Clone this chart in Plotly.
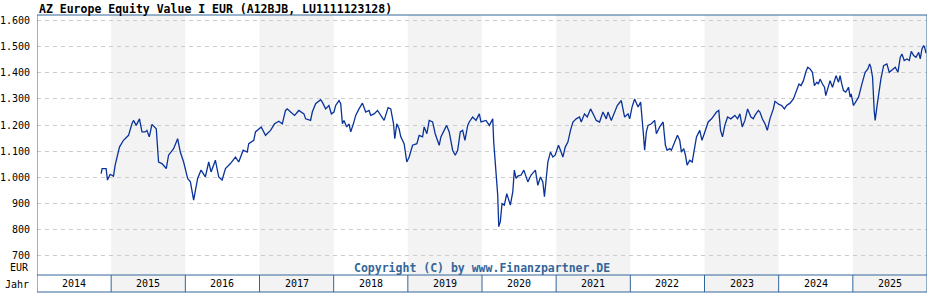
import plotly.graph_objects as go

# Fund price history (EUR), x as decimal year
dates = [
    2014.865, 2014.878, 2014.932, 2014.950, 2014.986, 2015.031, 2015.054, 2015.077, 2015.112, 2015.166,
    2015.234, 2015.280, 2015.301, 2015.338, 2015.382, 2015.415, 2015.459, 2015.482, 2015.514, 2015.550,
    2015.608, 2015.639, 2015.685, 2015.743, 2015.774, 2015.842, 2015.896, 2015.932, 2015.977, 2016.031,
    2016.068, 2016.112, 2016.135, 2016.166, 2016.212, 2016.270, 2016.315, 2016.347, 2016.405, 2016.450,
    2016.496, 2016.541, 2016.608, 2016.676, 2016.720, 2016.780, 2016.834, 2016.855, 2016.923, 2016.946,
    2017.023, 2017.081, 2017.149, 2017.203, 2017.261, 2017.307, 2017.351, 2017.374, 2017.419, 2017.473,
    2017.531, 2017.599, 2017.622, 2017.689, 2017.712, 2017.757, 2017.824, 2017.847, 2017.892, 2017.936,
    2017.969, 2018.004, 2018.027, 2018.072, 2018.095, 2018.118, 2018.139, 2018.176, 2018.207, 2018.230,
    2018.266, 2018.297, 2018.342, 2018.388, 2018.432, 2018.477, 2018.500, 2018.545, 2018.591, 2018.635,
    2018.680, 2018.734, 2018.770, 2018.807, 2018.824, 2018.851, 2018.882, 2018.905, 2018.950, 2018.986,
    2019.018, 2019.064, 2019.122, 2019.153, 2019.199, 2019.220, 2019.257, 2019.288, 2019.334, 2019.369,
    2019.423, 2019.446, 2019.491, 2019.523, 2019.558, 2019.604, 2019.639, 2019.672, 2019.707, 2019.739,
    2019.770, 2019.807, 2019.828, 2019.874, 2019.919, 2019.964, 2019.986, 2020.054, 2020.099, 2020.145,
    2020.158, 2020.176, 2020.189, 2020.212, 2020.226, 2020.247, 2020.270, 2020.301, 2020.334, 2020.355,
    2020.382, 2020.415, 2020.436, 2020.459, 2020.482, 2020.527, 2020.564, 2020.618, 2020.662, 2020.720,
    2020.753, 2020.788, 2020.820, 2020.842, 2020.865, 2020.888, 2020.923, 2020.955, 2020.986, 2021.031,
    2021.058, 2021.091, 2021.122, 2021.158, 2021.193, 2021.226, 2021.270, 2021.315, 2021.338, 2021.382,
    2021.419, 2021.464, 2021.509, 2021.541, 2021.585, 2021.631, 2021.676, 2021.699, 2021.743, 2021.788,
    2021.824, 2021.878, 2021.923, 2021.969, 2021.991, 2022.023, 2022.058, 2022.104, 2022.139, 2022.172,
    2022.193, 2022.216, 2022.239, 2022.284, 2022.328, 2022.351, 2022.396, 2022.442, 2022.473, 2022.496,
    2022.531, 2022.554, 2022.599, 2022.635, 2022.666, 2022.689, 2022.720, 2022.743, 2022.766, 2022.801,
    2022.834, 2022.869, 2022.892, 2022.936, 2022.966, 2023.000, 2023.050, 2023.095, 2023.162, 2023.193,
    2023.216, 2023.243, 2023.274, 2023.311, 2023.355, 2023.409, 2023.446, 2023.477, 2023.509, 2023.545,
    2023.581, 2023.626, 2023.658, 2023.680, 2023.726, 2023.747, 2023.780, 2023.815, 2023.847, 2023.882,
    2023.928, 2023.950, 2024.004, 2024.041, 2024.077, 2024.108, 2024.153, 2024.199, 2024.243, 2024.274,
    2024.301, 2024.334, 2024.365, 2024.392, 2024.423, 2024.455, 2024.482, 2024.514, 2024.536, 2024.558,
    2024.591, 2024.618, 2024.635, 2024.672, 2024.693, 2024.726, 2024.753, 2024.774, 2024.807, 2024.828,
    2024.851, 2024.874, 2024.905, 2024.942, 2024.964, 2024.977, 2025.009, 2025.041, 2025.077, 2025.122,
    2025.166, 2025.203, 2025.226, 2025.243, 2025.266, 2025.288, 2025.301, 2025.324, 2025.347, 2025.378,
    2025.415, 2025.459, 2025.491, 2025.527, 2025.572, 2025.608, 2025.639, 2025.662, 2025.693, 2025.730,
    2025.761, 2025.788, 2025.820, 2025.851, 2025.888, 2025.909, 2025.932, 2025.955, 2025.968, 2025.986,
]
prices = [
    1015, 1034, 1034, 990, 1012, 1005, 1047, 1078, 1116, 1142,
    1161, 1205, 1218, 1199, 1224, 1174, 1174, 1180, 1155, 1203,
    1186, 1059, 1053, 1034, 1085, 1110, 1148, 1097, 1059, 996,
    983, 913, 951, 996, 1028, 1002, 1059, 1021, 1066, 1002,
    990, 1034, 1053, 1078, 1059, 1104, 1097, 1129, 1142, 1174,
    1193, 1161, 1180, 1205, 1215, 1205, 1256, 1262, 1250, 1237,
    1256, 1243, 1224, 1218, 1250, 1282, 1297, 1288, 1262, 1275,
    1243, 1250, 1275, 1294, 1282, 1205, 1218, 1193, 1205, 1174,
    1205, 1237, 1262, 1284, 1250, 1256, 1237, 1243, 1256, 1237,
    1218, 1267, 1262, 1205, 1148, 1205, 1186, 1155, 1129, 1059,
    1078, 1123, 1129, 1161, 1155, 1193, 1167, 1218, 1212, 1167,
    1123, 1155, 1180, 1199, 1174, 1104, 1085, 1104, 1174, 1180,
    1142, 1199, 1212, 1231, 1218, 1243, 1212, 1218, 1199, 1224,
    1135, 1059, 1040, 932, 812, 831, 900, 894, 938, 919,
    894, 945, 1028, 996, 1005, 1009, 1028, 983, 1009, 1028,
    970, 1002, 983, 926, 996, 1059, 1097, 1078, 1085, 1123,
    1104, 1078, 1116, 1135, 1180, 1212, 1224, 1231, 1212, 1243,
    1231, 1262, 1237, 1218, 1212, 1250, 1224, 1250, 1218, 1250,
    1275, 1294, 1231, 1243, 1224, 1269, 1300, 1269, 1288, 1180,
    1104, 1174, 1199, 1205, 1218, 1167, 1193, 1212, 1123, 1104,
    1110, 1104, 1135, 1161, 1142, 1097, 1110, 1085, 1047, 1066,
    1059, 1123, 1155, 1180, 1142, 1170, 1212, 1224, 1250, 1256,
    1180, 1155, 1199, 1231, 1224, 1237, 1224, 1243, 1193, 1218,
    1262, 1231, 1224, 1237, 1256, 1250, 1224, 1205, 1180, 1224,
    1262, 1291, 1279, 1275, 1262, 1275, 1284, 1300, 1332, 1357,
    1351, 1370, 1402, 1421, 1415, 1402, 1351, 1364, 1357, 1376,
    1357, 1345, 1313, 1345, 1370, 1345, 1370, 1389, 1364, 1389,
    1357, 1332, 1326, 1345, 1307, 1319, 1275, 1288, 1307, 1357,
    1402, 1415, 1434, 1421, 1383, 1256, 1218, 1269, 1319, 1376,
    1427, 1434, 1402, 1411, 1421, 1402, 1459, 1472, 1447, 1453,
    1447, 1482, 1466, 1459, 1478, 1453, 1491, 1504, 1497, 1475,
]

years = [2014, 2015, 2016, 2017, 2018, 2019, 2020, 2021, 2022, 2023, 2024, 2025]
y_ticks = [700, 800, 900, 1000, 1100, 1200, 1300, 1400, 1500, 1600]
y_tick_text = ["700", "800", "900", "1.000", "1.100", "1.200", "1.300", "1.400", "1.500", "1.600"]

TITLE = "AZ Europe Equity Value I EUR (A12BJB, LU1111123128)"
COPYRIGHT = "Copyright (C) by www.Finanzpartner.DE"

W, H = 928, 300
ML, MR, MT, MB = 37, 1, 15, 25
PLOT_H = H - MT - MB
BAND = 17 / PLOT_H  # height of year band below the plot, in paper units

FRAME = "#336699"
SHADE = "#f3f3f3"
MONO = "DejaVu Sans Mono"

fig = go.Figure()
fig.add_trace(go.Scatter(x=dates, y=prices, mode="lines",
                         line=dict(color="#0a3399", width=1.3),
                         hoverinfo="skip", showlegend=False))

shapes = []
x_start, x_end = years[0], years[-1] + 1
for i, yr in enumerate(years):
    if i % 2 == 1:
        shapes.append(dict(type="rect", xref="x", yref="paper", x0=yr, x1=yr + 1,
                           y0=-BAND, y1=1, fillcolor=SHADE, line=dict(width=0), layer="below"))
# separators in year band
for yr in years[1:]:
    shapes.append(dict(type="line", xref="x", yref="paper", x0=yr, x1=yr, y0=-BAND, y1=0,
                       line=dict(color=FRAME, width=1), layer="above"))
# frame
shapes.append(dict(type="rect", xref="x", yref="paper", x0=x_start, x1=x_end, y0=-BAND, y1=1,
                   line=dict(color=FRAME, width=1), fillcolor="rgba(0,0,0,0)", layer="above"))
shapes.append(dict(type="line", xref="x", yref="paper", x0=x_start, x1=x_end, y0=0, y1=0,
                   line=dict(color=FRAME, width=1), layer="above"))

annotations = []
for yr in years:
    annotations.append(dict(x=yr + 0.5, y=-8.5 / PLOT_H, xref="x", yref="paper", text=str(yr),
                            showarrow=False, xanchor="center", yanchor="middle",
                            font=dict(family=MONO, size=10, color="#000000")))
annotations.append(dict(x=0, y=-(9 / PLOT_H), xref="paper", yref="paper", text="Jahr",
                        showarrow=False, xanchor="right", yanchor="middle", xshift=-6,
                        font=dict(family=MONO, size=10, color="#000000")))
annotations.append(dict(x=0, y=7.5 / PLOT_H, xref="paper", yref="paper", text="EUR",
                        showarrow=False, xanchor="right", yanchor="middle", xshift=-6,
                        font=dict(family=MONO, size=10, color="#000000")))
annotations.append(dict(x=0.5, y=7 / PLOT_H, xref="paper", yref="paper", text="<b>%s</b>" % COPYRIGHT,
                        showarrow=False, xanchor="center", yanchor="middle",
                        font=dict(family=MONO, size=11.5, color=FRAME)))
annotations.append(dict(x=0, y=1 + 6 / PLOT_H, xref="paper", yref="paper", text="<b>%s</b>" % TITLE,
                        showarrow=False, xanchor="left", yanchor="middle",
                        font=dict(family=MONO, size=11.5, color="#000000")))

fig.update_layout(
    width=W, height=H,
    margin=dict(l=ML, r=MR, t=MT, b=MB, pad=0),
    paper_bgcolor="#ffffff", plot_bgcolor="rgba(0,0,0,0)",
    shapes=shapes, annotations=annotations,
    xaxis=dict(range=[x_start, x_end], showgrid=False, showticklabels=False, zeroline=False,
               showline=False, ticks="", fixedrange=True),
    yaxis=dict(range=[627, 1621], tickvals=y_ticks, ticktext=y_tick_text,
               showgrid=True, gridcolor="#cccccc", griddash="4px,4px", gridwidth=1,
               zeroline=False, showline=False, ticks="", ticklabelstandoff=6,
               tickfont=dict(family=MONO, size=10, color="#000000"), fixedrange=True),
    font=dict(family=MONO),
)

fig.write_html("out.html")
